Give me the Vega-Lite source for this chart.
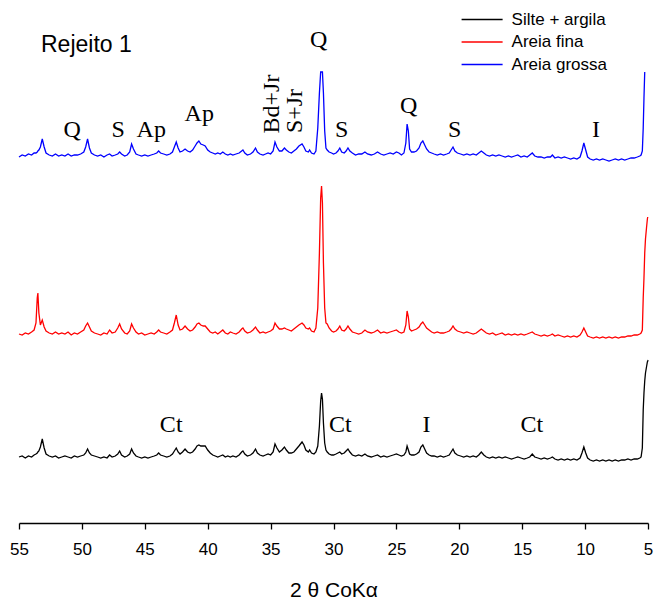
{
  "$schema": "https://vega.github.io/schema/vega-lite/v6.json",
  "width": 629,
  "height": 523,
  "autosize": {"type": "none"},
  "padding": {"left": 19, "top": 0, "right": 7, "bottom": 80},
  "background": "white",
  "config": {
    "view": {"stroke": null},
    "font": "Liberation Sans",
    "legend": {"orient": "none", "legendX": 454.6, "legendY": 11, "symbolType": "M-3,0H3", "symbolSize": 187, "symbolStrokeWidth": 1.5, "labelFontSize": 17, "labelFont": "Liberation Sans", "labelColor": "black", "rowPadding": 4.5, "labelOffset": 21, "padding": 0}
  },
  "data": {"values": [
    {"t":55.0,"k":66,"r":189,"b":366},{"t":54.75,"k":67,"r":188,"b":368},{"t":54.5,"k":65,"r":190,"b":367},{"t":54.25,"k":67,"r":189,"b":369},{"t":54.0,"k":66,"r":191,"b":368},{"t":53.8,"k":68,"r":193,"b":370},
    {"t":53.65,"k":69,"r":200,"b":370},{"t":53.55,"k":70,"r":225,"b":371},{"t":53.5,"k":71,"r":230,"b":372},{"t":53.42,"k":72,"r":210,"b":373},{"t":53.3,"k":76,"r":198,"b":376},{"t":53.15,"k":84,"r":203,"b":384},{"t":53.0,"k":75,"r":196,"b":376},{"t":52.85,"k":69,"r":192,"b":370},
    {"t":52.6,"k":67,"r":190,"b":368},{"t":52.35,"k":66,"r":189,"b":367},{"t":52.1,"k":67,"r":191,"b":369},{"t":51.85,"k":65,"r":189,"b":367},{"t":51.6,"k":66,"r":190,"b":368},{"t":51.35,"k":67,"r":189,"b":367},{"t":51.1,"k":66,"r":191,"b":369},{"t":50.85,"k":65,"r":188,"b":367},{"t":50.6,"k":67,"r":190,"b":368},{"t":50.35,"k":66,"r":189,"b":368},{"t":50.1,"k":67,"r":191,"b":369},{"t":49.85,"k":68,"r":193,"b":371},{"t":49.7,"k":70,"r":197,"b":376},{"t":49.55,"k":74,"r":200,"b":384},{"t":49.4,"k":70,"r":196,"b":375},{"t":49.25,"k":68,"r":192,"b":370},{"t":49.0,"k":67,"r":190,"b":368},{"t":48.75,"k":66,"r":189,"b":367},{"t":48.5,"k":65,"r":188,"b":368},{"t":48.25,"k":66,"r":190,"b":366},{"t":48.0,"k":65,"r":189,"b":368},{"t":47.8,"k":68,"r":193,"b":369},{"t":47.6,"k":66,"r":190,"b":367},{"t":47.35,"k":67,"r":191,"b":368},{"t":47.15,"k":69,"r":195,"b":369},{"t":47.0,"k":72,"r":199,"b":371},{"t":46.85,"k":68,"r":194,"b":369},{"t":46.6,"k":66,"r":190,"b":367},{"t":46.4,"k":67,"r":189,"b":368},{"t":46.2,"k":69,"r":192,"b":371},{"t":46.05,"k":74,"r":199,"b":379},{"t":45.9,"k":70,"r":195,"b":374},{"t":45.7,"k":67,"r":191,"b":369},{"t":45.5,"k":66,"r":189,"b":368},{"t":45.25,"k":65,"r":190,"b":367},{"t":45.0,"k":66,"r":188,"b":368},{"t":44.75,"k":65,"r":189,"b":367},{"t":44.5,"k":66,"r":190,"b":368},{"t":44.25,"k":67,"r":189,"b":369},{"t":44.05,"k":68,"r":191,"b":370},{"t":43.9,"k":70,"r":193,"b":372},{"t":43.75,"k":68,"r":191,"b":370},{"t":43.5,"k":67,"r":190,"b":369},{"t":43.25,"k":66,"r":189,"b":368},{"t":43.0,"k":67,"r":191,"b":369},{"t":42.8,"k":69,"r":193,"b":371},{"t":42.65,"k":72,"r":200,"b":376},{"t":42.5,"k":75,"r":208,"b":381},{"t":42.35,"k":71,"r":198,"b":375},{"t":42.2,"k":69,"r":193,"b":371},{"t":42.0,"k":71,"r":194,"b":372},{"t":41.8,"k":74,"r":197,"b":374},{"t":41.6,"k":71,"r":194,"b":372},{"t":41.4,"k":70,"r":192,"b":371},{"t":41.2,"k":71,"r":193,"b":373},{"t":41.0,"k":74,"r":196,"b":377},{"t":40.85,"k":77,"r":199,"b":380},{"t":40.7,"k":78,"r":200,"b":382},{"t":40.55,"k":77,"r":198,"b":379},{"t":40.35,"k":77,"r":197,"b":378},{"t":40.2,"k":77,"r":197,"b":377},{"t":40.0,"k":73,"r":194,"b":373},{"t":39.8,"k":70,"r":191,"b":371},{"t":39.6,"k":68,"r":190,"b":370},{"t":39.4,"k":67,"r":191,"b":369},{"t":39.2,"k":66,"r":189,"b":370},{"t":39.0,"k":67,"r":191,"b":369},{"t":38.8,"k":68,"r":193,"b":371},{"t":38.6,"k":66,"r":190,"b":369},{"t":38.4,"k":67,"r":189,"b":368},{"t":38.2,"k":66,"r":191,"b":369},{"t":38.0,"k":67,"r":190,"b":368},{"t":37.75,"k":66,"r":189,"b":369},{"t":37.5,"k":68,"r":191,"b":370},{"t":37.3,"k":71,"r":194,"b":372},{"t":37.2,"k":72,"r":195,"b":373},{"t":37.05,"k":69,"r":192,"b":370},{"t":36.85,"k":67,"r":190,"b":368},{"t":36.6,"k":68,"r":191,"b":369},{"t":36.4,"k":70,"r":193,"b":371},{"t":36.2,"k":74,"r":196,"b":375},{"t":36.05,"k":70,"r":193,"b":371},{"t":35.85,"k":68,"r":190,"b":369},{"t":35.6,"k":67,"r":191,"b":368},{"t":35.4,"k":68,"r":190,"b":369},{"t":35.2,"k":69,"r":191,"b":370},{"t":35.0,"k":68,"r":192,"b":369},{"t":34.8,"k":71,"r":194,"b":372},{"t":34.65,"k":79,"r":200,"b":381},{"t":34.5,"k":75,"r":197,"b":376},{"t":34.3,"k":71,"r":194,"b":372},{"t":34.1,"k":73,"r":194,"b":372},{"t":33.9,"k":76,"r":195,"b":375},{"t":33.75,"k":73,"r":194,"b":373},{"t":33.55,"k":70,"r":193,"b":371},{"t":33.35,"k":70,"r":192,"b":370},{"t":33.15,"k":71,"r":194,"b":372},{"t":32.95,"k":74,"r":196,"b":374},{"t":32.75,"k":77,"r":198,"b":377},{"t":32.5,"k":81,"r":200,"b":379},{"t":32.35,"k":78,"r":198,"b":376},{"t":32.2,"k":73,"r":195,"b":372},{"t":32.0,"k":71,"r":194,"b":371},{"t":31.9,"k":73,"r":195,"b":373},{"t":31.75,"k":70,"r":192,"b":370},{"t":31.55,"k":69,"r":191,"b":369},{"t":31.4,"k":71,"r":195,"b":372},{"t":31.25,"k":77,"r":215,"b":395},{"t":31.12,"k":97,"r":270,"b":430},{"t":31.02,"k":122,"r":325,"b":451},{"t":30.95,"k":130,"r":337,"b":451},{"t":30.88,"k":124,"r":320,"b":451},{"t":30.8,"k":100,"r":260,"b":430},{"t":30.7,"k":80,"r":215,"b":392},{"t":30.6,"k":73,"r":200,"b":375},{"t":30.5,"k":71,"r":199,"b":373},{"t":30.35,"k":69,"r":195,"b":371},{"t":30.15,"k":68,"r":192,"b":370},{"t":30.0,"k":68,"r":191,"b":369},{"t":29.8,"k":69,"r":192,"b":370},{"t":29.65,"k":70,"r":194,"b":372},{"t":29.5,"k":71,"r":197,"b":375},{"t":29.35,"k":69,"r":193,"b":371},{"t":29.15,"k":70,"r":192,"b":370},{"t":29.0,"k":72,"r":194,"b":372},{"t":28.85,"k":74,"r":197,"b":375},{"t":28.7,"k":71,"r":194,"b":372},{"t":28.5,"k":68,"r":191,"b":370},{"t":28.25,"k":67,"r":190,"b":368},{"t":28.0,"k":68,"r":189,"b":369},{"t":27.75,"k":67,"r":190,"b":369},{"t":27.5,"k":69,"r":193,"b":371},{"t":27.3,"k":67,"r":191,"b":369},{"t":27.0,"k":66,"r":190,"b":368},{"t":26.75,"k":67,"r":191,"b":369},{"t":26.5,"k":68,"r":193,"b":371},{"t":26.25,"k":66,"r":190,"b":369},{"t":26.0,"k":67,"r":191,"b":368},{"t":25.75,"k":66,"r":190,"b":369},{"t":25.5,"k":67,"r":191,"b":370},{"t":25.25,"k":68,"r":192,"b":369},{"t":25.0,"k":69,"r":193,"b":371},{"t":24.8,"k":68,"r":191,"b":370},{"t":24.6,"k":67,"r":190,"b":368},{"t":24.4,"k":68,"r":191,"b":370},{"t":24.25,"k":71,"r":198,"b":380},{"t":24.15,"k":77,"r":212,"b":399},{"t":24.05,"k":73,"r":206,"b":392},{"t":23.95,"k":69,"r":194,"b":374},{"t":23.8,"k":68,"r":192,"b":371},{"t":23.6,"k":68,"r":193,"b":371},{"t":23.4,"k":69,"r":194,"b":372},{"t":23.2,"k":71,"r":196,"b":375},{"t":23.05,"k":76,"r":199,"b":380},{"t":22.9,"k":78,"r":201,"b":382},{"t":22.75,"k":74,"r":198,"b":378},{"t":22.6,"k":70,"r":195,"b":374},{"t":22.4,"k":68,"r":193,"b":371},{"t":22.2,"k":67,"r":191,"b":370},{"t":22.0,"k":67,"r":190,"b":369},{"t":21.75,"k":66,"r":191,"b":368},{"t":21.5,"k":67,"r":190,"b":369},{"t":21.25,"k":66,"r":190,"b":368},{"t":21.0,"k":67,"r":191,"b":369},{"t":20.8,"k":68,"r":192,"b":370},{"t":20.65,"k":71,"r":194,"b":373},{"t":20.5,"k":74,"r":197,"b":376},{"t":20.35,"k":70,"r":194,"b":372},{"t":20.15,"k":68,"r":192,"b":370},{"t":19.9,"k":67,"r":191,"b":369},{"t":19.65,"k":66,"r":190,"b":368},{"t":19.4,"k":67,"r":191,"b":369},{"t":19.15,"k":66,"r":190,"b":368},{"t":18.9,"k":67,"r":189,"b":369},{"t":18.65,"k":66,"r":190,"b":368},{"t":18.45,"k":68,"r":192,"b":370},{"t":18.25,"k":71,"r":194,"b":372},{"t":18.05,"k":68,"r":192,"b":370},{"t":17.85,"k":66,"r":190,"b":368},{"t":17.6,"k":65,"r":189,"b":367},{"t":17.35,"k":66,"r":190,"b":368},{"t":17.1,"k":65,"r":188,"b":367},{"t":16.85,"k":66,"r":189,"b":368},{"t":16.6,"k":65,"r":190,"b":367},{"t":16.35,"k":66,"r":188,"b":366},{"t":16.1,"k":65,"r":189,"b":367},{"t":15.85,"k":64,"r":188,"b":366},{"t":15.6,"k":65,"r":189,"b":367},{"t":15.35,"k":66,"r":188,"b":368},{"t":15.1,"k":65,"r":189,"b":366},{"t":14.85,"k":64,"r":188,"b":367},{"t":14.6,"k":65,"r":189,"b":366},{"t":14.4,"k":66,"r":190,"b":368},{"t":14.2,"k":69,"r":191,"b":370},{"t":14.0,"k":66,"r":189,"b":367},{"t":13.75,"k":65,"r":188,"b":366},{"t":13.5,"k":64,"r":187,"b":366},{"t":13.25,"k":65,"r":188,"b":365},{"t":13.0,"k":64,"r":187,"b":366},{"t":12.75,"k":65,"r":188,"b":366},{"t":12.6,"k":66,"r":189,"b":368},{"t":12.4,"k":64,"r":187,"b":365},{"t":12.15,"k":63,"r":188,"b":366},{"t":11.9,"k":64,"r":187,"b":365},{"t":11.65,"k":63,"r":186,"b":366},{"t":11.4,"k":64,"r":187,"b":365},{"t":11.15,"k":63,"r":186,"b":364},{"t":10.9,"k":64,"r":187,"b":365},{"t":10.65,"k":63,"r":186,"b":364},{"t":10.4,"k":65,"r":188,"b":366},{"t":10.25,"k":70,"r":191,"b":372},{"t":10.1,"k":76,"r":195,"b":380},{"t":9.95,"k":70,"r":191,"b":373},{"t":9.8,"k":65,"r":187,"b":366},{"t":9.6,"k":63,"r":186,"b":364},{"t":9.35,"k":62,"r":185,"b":363},{"t":9.1,"k":63,"r":186,"b":364},{"t":8.85,"k":62,"r":185,"b":363},{"t":8.6,"k":63,"r":186,"b":364},{"t":8.35,"k":62,"r":185,"b":363},{"t":8.1,"k":63,"r":186,"b":362},{"t":7.85,"k":62,"r":185,"b":363},{"t":7.6,"k":63,"r":186,"b":364},{"t":7.35,"k":62,"r":185,"b":363},{"t":7.1,"k":63,"r":186,"b":364},{"t":6.85,"k":63,"r":186,"b":363},{"t":6.6,"k":64,"r":187,"b":364},{"t":6.35,"k":63,"r":187,"b":365},{"t":6.1,"k":64,"r":188,"b":365},{"t":5.85,"k":64,"r":188,"b":366},{"t":5.65,"k":65,"r":189,"b":367},{"t":5.55,"k":66,"r":190,"b":368},
    {"t":5.45,"k":75,"r":193,"b":372},{"t":5.38,"k":113,"r":225,"b":395},{"t":5.32,"k":130,"r":245,"b":425},{"t":5.26,"k":142,"r":270,"b":451},{"t":5.2,"k":150,"r":284,"b":null},{"t":5.12,"k":156,"r":295,"b":null},{"t":5.05,"k":161,"r":304,"b":null},{"t":5.02,"k":162,"r":306,"b":null},{"t":5.0,"k":163,"r":null,"b":null}
  ]},
  "layer": [
    {
      "transform": [{"fold": ["k", "r", "b"], "as": ["series", "I"]}],
      "mark": {"type": "line", "strokeWidth": 1.3, "interpolate": "linear"},
      "encoding": {
        "x": {"field": "t", "type": "quantitative", "scale": {"domain": [5, 55], "reverse": true, "nice": false, "zero": false},
              "axis": {"values": [55,50,45,40,35,30,25,20,15,10,5], "title": "2 θ CoKα", "titleFontSize": 21, "titleFontWeight": "normal", "titleColor": "black", "titlePadding": 22, "labelFontSize": 17, "labelColor": "black", "labelPadding": 12, "tickSize": 6, "tickColor": "black", "domainColor": "black", "domainWidth": 1.5, "tickWidth": 1.3, "grid": false, "labelFlush": false}},
        "y": {"field": "I", "type": "quantitative", "scale": {"domain": [0, 523], "nice": false, "zero": false}, "axis": null},
        "color": {"field": "series", "type": "nominal", "scale": {"domain": ["k", "r", "b"], "range": ["#000000", "#ff0000", "#0000ff"]},
                  "legend": {"title": null, "labelExpr": "datum.label == 'k' ? 'Silte + argila' : datum.label == 'r' ? 'Areia fina' : 'Areia grossa'"}},
        "detail": {"field": "series"}
      }
    },
    {
      "data": {"values": [
        {"t":50.78,"v":393,"lab":"Q"},{"t":47.12,"v":393,"lab":"S"},{"t":44.49,"v":393,"lab":"Ap"},{"t":40.67,"v":409,"lab":"Ap"},
        {"t":31.17,"v":483,"lab":"Q"},{"t":29.36,"v":393,"lab":"S"},{"t":24.03,"v":417,"lab":"Q"},{"t":20.37,"v":393,"lab":"S"},{"t":9.14,"v":393,"lab":"I"},
        {"t":42.9,"v":98,"lab":"Ct"},{"t":29.46,"v":98,"lab":"Ct"},{"t":22.6,"v":98,"lab":"I"},{"t":14.24,"v":98,"lab":"Ct"}
      ]},
      "mark": {"type": "text", "font": "Liberation Serif", "fontSize": 24, "align": "center", "baseline": "middle", "color": "black"},
      "encoding": {
        "x": {"field": "t", "type": "quantitative"},
        "y": {"field": "v", "type": "quantitative"},
        "text": {"field": "lab"}
      }
    },
    {
      "data": {"values": [
        {"t":34.86,"v":419,"lab":"Bd+Jr"},{"t":33.06,"v":412,"lab":"S+Jr"}
      ]},
      "mark": {"type": "text", "font": "Liberation Serif", "fontSize": 24, "align": "center", "baseline": "middle", "angle": 270, "color": "black"},
      "encoding": {
        "x": {"field": "t", "type": "quantitative"},
        "y": {"field": "v", "type": "quantitative"},
        "text": {"field": "lab"}
      }
    },
    {
      "data": {"values": [{"t":53.25,"v":478,"lab":"Rejeito 1"}]},
      "mark": {"type": "text", "font": "Liberation Sans", "fontSize": 23, "align": "left", "baseline": "middle", "color": "black"},
      "encoding": {
        "x": {"field": "t", "type": "quantitative"},
        "y": {"field": "v", "type": "quantitative"},
        "text": {"field": "lab"}
      }
    }
  ]
}
